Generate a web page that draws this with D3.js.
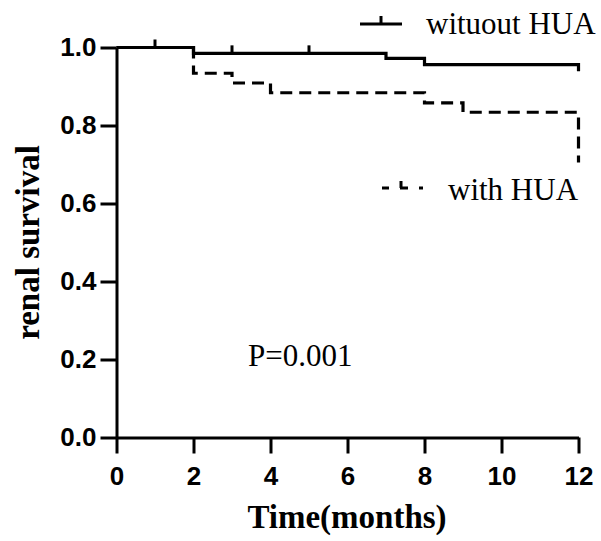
<!DOCTYPE html>
<html>
<head>
<meta charset="utf-8">
<script src="https://cdn.jsdelivr.net/npm/d3@7"></script>
<style>
  body { margin: 0; background: #fff; }
  svg { display: block; }
  .tick text { font-family: "Liberation Sans", Arial, sans-serif; font-weight: bold; font-size: 26px; fill: #000; }
  .axis path, .axis line { stroke: #000; stroke-width: 3px; }
  .title { font-family: "Liberation Serif", "Times New Roman", serif; font-weight: bold; font-size: 33px; }
  .note { font-family: "Liberation Serif", "Times New Roman", serif; font-size: 31px; }
</style>
</head>
<body>
<div id="chart"></div>
<script>
// Kaplan-Meier steps
const monthsWithout = [0, 2, 7, 8, 12];
const survWithout = [1.0, 0.985, 0.972, 0.956, 0.939];
const censorWithout = [1, 3, 5];
const monthsWith = [0, 2, 3, 4, 8, 9, 12];
const survWith = [1.0, 0.934, 0.909, 0.884, 0.858, 0.834, 0.705];
const xTicks = [0, 2, 4, 6, 8, 10, 12];
const yTicks = [0, 0.2, 0.4, 0.6, 0.8, 1.0];
const seriesNames = ['wituout HUA', 'with HUA'];
const pText = 'P=0.001';

const width = 601, height = 541;
const svg = d3.select('#chart').append('svg')
  .attr('width', width)
  .attr('height', height);

const x = d3.scaleLinear().domain([0, 12]).range([116.5, 578.5]);
const y = d3.scaleLinear().domain([0, 1]).range([437.5, 47.5]);

// axes
svg.append('g')
  .attr('class', 'axis')
  .attr('transform', 'translate(0,' + y(0) + ')')
  .call(d3.axisBottom(x).tickValues(xTicks).tickSize(16).tickSizeOuter(0).tickPadding(13)
    .tickFormat(d3.format('d')));

svg.append('g')
  .attr('class', 'axis')
  .attr('transform', 'translate(' + x(0) + ',0)')
  .call(d3.axisLeft(y).tickValues(yTicks).tickSize(16).tickSizeOuter(0).tickPadding(4)
    .tickFormat(d3.format('.1f')));

const line = d3.line()
  .x(d => x(d[0]))
  .y(d => y(d[1]))
  .curve(d3.curveStepAfter);

const withoutPts = monthsWithout.map((m, i) => [m, survWithout[i]]);
const withPts = monthsWith.map((m, i) => [m, survWith[i]]);

// level of the solid curve at a given month
const levelAt = m => {
  let v = survWithout[0];
  monthsWithout.forEach((t, i) => { if (t <= m) v = survWithout[i]; });
  return v;
};

svg.append('path')
  .datum(withoutPts)
  .attr('fill', 'none')
  .attr('stroke', '#000')
  .attr('stroke-width', 3.2)
  .attr('d', line);

svg.selectAll('.censor')
  .data(censorWithout)
  .enter().append('line')
  .attr('class', 'censor')
  .attr('x1', d => x(d))
  .attr('x2', d => x(d))
  .attr('y1', d => y(levelAt(d)))
  .attr('y2', d => y(levelAt(d)) - 8)
  .attr('stroke', '#000')
  .attr('stroke-width', 3);

svg.append('path')
  .datum(withPts)
  .attr('fill', 'none')
  .attr('stroke', '#000')
  .attr('stroke-width', 3.2)
  .attr('stroke-dasharray', '12,7')
  .attr('d', line);

// legend
const legend = svg.append('g');
legend.append('line')
  .attr('x1', 360).attr('x2', 402).attr('y1', 24).attr('y2', 24)
  .attr('stroke', '#000').attr('stroke-width', 3);
legend.append('line')
  .attr('x1', 381).attr('x2', 381).attr('y1', 24).attr('y2', 16)
  .attr('stroke', '#000').attr('stroke-width', 3);
legend.append('text')
  .attr('class', 'note')
  .attr('x', 426).attr('y', 34)
  .text(seriesNames[0]);

legend.append('path')
  .attr('d', 'M382,188H401V181M401,188H423')
  .attr('fill', 'none')
  .attr('stroke', '#000').attr('stroke-width', 3)
  .attr('stroke-dasharray', '7,11,12,8,3,10');
legend.append('text')
  .attr('class', 'note')
  .attr('x', 448).attr('y', 200)
  .text(seriesNames[1]);

svg.append('text')
  .attr('class', 'note')
  .attr('x', 248).attr('y', 366)
  .text(pText);

// axis titles
svg.append('text')
  .attr('class', 'title')
  .attr('text-anchor', 'middle')
  .attr('x', 347).attr('y', 528)
  .text('Time(months)');

svg.append('text')
  .attr('class', 'title')
  .attr('text-anchor', 'middle')
  .attr('transform', 'translate(38.5,242.5) rotate(-90)')
  .text('renal survival');
</script>
</body>
</html>
